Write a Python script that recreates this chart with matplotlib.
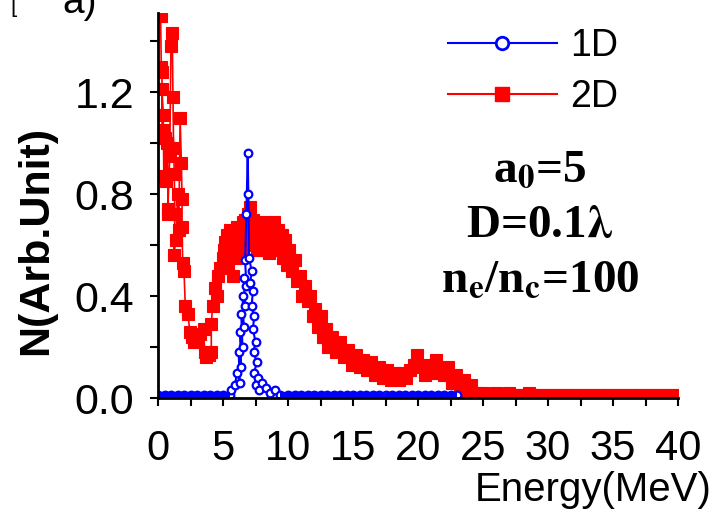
import matplotlib
matplotlib.use("Agg")
import numpy as np
import matplotlib.pyplot as plt
from matplotlib.lines import Line2D
from matplotlib.ticker import MultipleLocator, FormatStrFormatter

plt.rcParams['font.family'] = ['Liberation Sans', 'DejaVu Sans']

# 1D spectrum (blue, open circles)
energy_1d = [0, 0.5, 1, 1.5, 2, 2.5, 3, 3.5, 4, 4.5, 5, 5.5,
             5.6, 5.9, 6.1, 6.3, 6.2, 6.4, 6.3, 6.5, 6.4, 6.6, 6.5, 6.7,
             6.6, 6.8, 6.7, 6.8, 6.9, 6.95, 7.0, 7.2, 7.1, 7.3, 7.2, 7.4,
             7.3, 7.5, 7.35, 7.6, 7.4, 7.7, 7.5, 8.0, 7.8, 8.3, 8.6, 9.0, 9.4,
             10, 10.5, 11, 11.5, 12, 12.5, 13, 13.5, 14, 14.5, 15, 15.5,
             16, 16.5, 17, 17.5, 18, 18.5, 19, 19.5, 20, 20.5, 21, 21.5, 22,
             22.5, 23]
count_1d = [0.01, 0.01, 0.01, 0.01, 0.01, 0.01, 0.01, 0.01, 0.01, 0.01, 0.01, 0.01,
            0.03, 0.05, 0.10, 0.06, 0.18, 0.12, 0.26, 0.20, 0.33, 0.28, 0.40, 0.36,
            0.47, 0.44, 0.54, 0.72, 0.96, 0.80, 0.55, 0.50, 0.45, 0.42, 0.36, 0.32,
            0.27, 0.22, 0.18, 0.14, 0.10, 0.08, 0.05, 0.06, 0.03, 0.04, 0.02, 0.03, 0.01,
            0.01, 0.01, 0.01, 0.01, 0.01, 0.01, 0.01, 0.01, 0.01, 0.01, 0.01, 0.01,
            0.01, 0.01, 0.01, 0.01, 0.01, 0.01, 0.01, 0.01, 0.01, 0.01, 0.01, 0.01, 0.01,
            0.01, 0.01]

# 2D spectrum (red, filled squares)
energy_2d = [0.2, 0.25, 0.3, 0.35, 0.3, 0.4, 0.45, 0.5, 0.6, 0.7, 0.8, 0.75,
             0.9, 1.0, 1.1, 1.15, 1.2, 1.25, 1.3, 1.2, 1.4, 1.5, 1.6, 1.7,
             1.8, 1.85, 1.85, 1.9, 2.0, 2.1, 2.3, 2.45, 2.6, 2.8, 3.0, 3.2,
             3.5, 3.6, 3.7, 3.9, 4.1, 4.1, 4.2, 4.35, 4.5, 4.6, 4.8, 5.0,
             5.1, 5.15, 5.3, 5.4, 5.5, 5.6, 5.7, 5.8, 5.9, 6.0, 6.1, 6.2,
             6.3, 6.4, 6.5, 6.6, 6.7, 6.8, 6.9, 7.0, 7.1, 7.2, 7.3, 7.4,
             7.5, 7.6, 7.7, 7.8, 7.9, 8.0, 8.1, 8.2, 8.4, 8.5, 8.6, 8.8,
             8.9, 9.0, 9.2, 9.3, 9.5, 9.6, 9.8, 9.9, 10.1, 10.3, 10.5, 10.7,
             10.9, 11.1, 11.3, 11.5, 11.7, 11.9, 12.1, 12.3, 12.5, 12.7, 12.9, 13.1,
             13.4, 13.7, 14.0, 14.3, 14.6, 14.9, 15.2, 15.5, 15.8, 16.1, 16.4, 16.7,
             17.0, 17.3, 17.6, 17.9, 18.2, 18.5, 18.8, 19.1, 19.4, 19.7, 19.9, 20.2,
             20.5, 20.8, 21.1, 21.4, 21.7, 22.0, 22.3, 22.6, 22.9, 23.2, 23.5, 23.8,
             24.1, 24.5, 25, 25.5, 26, 26.5, 27, 27.5, 28, 28.5, 29, 29.5,
             30, 30.5, 31, 31.5, 32, 32.5, 33, 33.5, 34, 34.5, 35, 35.5,
             36, 36.5, 37, 37.5, 38, 38.5, 39, 39.5, 40]
count_2d = [1.50, 1.30, 1.28, 1.05, 1.21, 1.11, 0.87, 1.02, 0.85, 1.00, 0.74, 0.72,
            0.95, 1.38, 1.43, 1.18, 0.98, 0.88, 0.72, 0.56, 0.62, 0.80, 0.66, 1.10,
            0.92, 0.78, 0.67, 0.53, 0.50, 0.36, 0.33, 0.26, 0.24, 0.22, 0.23, 0.25,
            0.27, 0.18, 0.16, 0.17, 0.18, 0.29, 0.36, 0.43, 0.40, 0.48, 0.51, 0.55,
            0.58, 0.61, 0.64, 0.52, 0.66, 0.58, 0.62, 0.48, 0.65, 0.55, 0.67, 0.60,
            0.64, 0.56, 0.69, 0.60, 0.70, 0.62, 0.72, 0.66, 0.75, 0.68, 0.70, 0.62,
            0.66, 0.58, 0.64, 0.60, 0.67, 0.58, 0.69, 0.62, 0.66, 0.57, 0.63, 0.60,
            0.69, 0.62, 0.66, 0.58, 0.64, 0.55, 0.62, 0.52, 0.58, 0.50, 0.54, 0.46,
            0.48, 0.40, 0.44, 0.38, 0.40, 0.32, 0.35, 0.28, 0.32, 0.24, 0.27, 0.20,
            0.24, 0.18, 0.22, 0.16, 0.19, 0.13, 0.17, 0.12, 0.15, 0.11, 0.14, 0.09,
            0.12, 0.08, 0.11, 0.07, 0.10, 0.07, 0.10, 0.08, 0.11, 0.13, 0.17, 0.12,
            0.09, 0.13, 0.10, 0.15, 0.11, 0.09, 0.12, 0.06, 0.09, 0.04, 0.07, 0.03,
            0.05, 0.02, 0.02, 0.01, 0.02, 0.01, 0.02, 0.01, 0.01, 0.02, 0.01, 0.01,
            0.01, 0.01, 0.01, 0.01, 0.01, 0.01, 0.01, 0.01, 0.01, 0.01, 0.01, 0.01,
            0.01, 0.01, 0.01, 0.01, 0.01, 0.01, 0.01, 0.01, 0.01]

params = ['a$_\\mathbf{0}$=5', 'D=0.1$\\mathbf{\\lambda}$', 'n$_\\mathbf{e}$/n$_\\mathbf{c}$=100']

fig = plt.figure(figsize=(7.14, 5.13), dpi=100)
ax = fig.add_axes([158/714, 115/513, 520/714, 385/513])

ax.plot(energy_2d, count_2d, color='red', marker='s', ms=8, mew=0.8, lw=1.2, zorder=2)
ax.plot(energy_1d, count_1d, color='blue', marker='o', ms=5.5, mfc='white',
        mec='blue', mew=1.6, lw=1.5, zorder=3)
# near-zero part of the 1D curve shows as a solid band
base_1d = np.where(np.array(count_1d) <= 0.01, count_1d, np.nan)
ax.plot(energy_1d, base_1d, color='blue', lw=4.5, solid_capstyle='butt', zorder=3.5)

ax.set_xlim(0, 40)
ax.set_ylim(0, 1.51)
ax.xaxis.set_major_locator(MultipleLocator(5))
ax.xaxis.set_minor_locator(MultipleLocator(2.5))
ax.yaxis.set_major_locator(MultipleLocator(0.4))
ax.yaxis.set_minor_locator(MultipleLocator(0.2))
ax.yaxis.set_major_formatter(FormatStrFormatter('%.1f'))
for s in ['top', 'right']:
    ax.spines[s].set_visible(False)
for s in ['left', 'bottom']:
    ax.spines[s].set_linewidth(2)
    ax.spines[s].set_zorder(5)
ax.tick_params(axis='both', which='both', direction='out', length=6, width=1.5)
ax.tick_params(axis='x', which='major', labelsize=30, pad=16)
ax.tick_params(axis='y', which='major', labelsize=31, pad=11)

fig.text(36/714, 1 - 240/513, 'N(Arb.Unit)', rotation=90, fontsize=31,
         fontweight='bold', ha='center', va='center')
fig.text(712/714, 1 - 501/513, 'Energy(MeV)', fontsize=29, ha='right', va='baseline')
fig.text(62/714, 1 - 13/513, 'a)', fontsize=28, ha='left', va='baseline')
fig.text(10/714, 1 - 12/513, '[', fontsize=16, ha='left', va='baseline')

# parameters text
for i, s in enumerate(params):
    fig.text(540/714, 1 - (182 + 55*i)/513, s, fontsize=34, fontweight='bold',
             family='Liberation Serif', ha='center', va='baseline',
             math_fontfamily='stix')

handles = [Line2D([], [], color='blue', marker='o', ms=9, mfc='white', mec='blue', mew=2, lw=1.5),
           Line2D([], [], color='red', marker='s', ms=10, lw=1.5)]
fig.legend(handles, ['1D', '2D'], loc='upper left', bbox_to_anchor=(433/714, 1 - 13/513),
           frameon=False, fontsize=27, handlelength=2.9, handletextpad=0.35,
           labelspacing=0.4, borderaxespad=0)

fig.savefig('out.png', dpi=100)
